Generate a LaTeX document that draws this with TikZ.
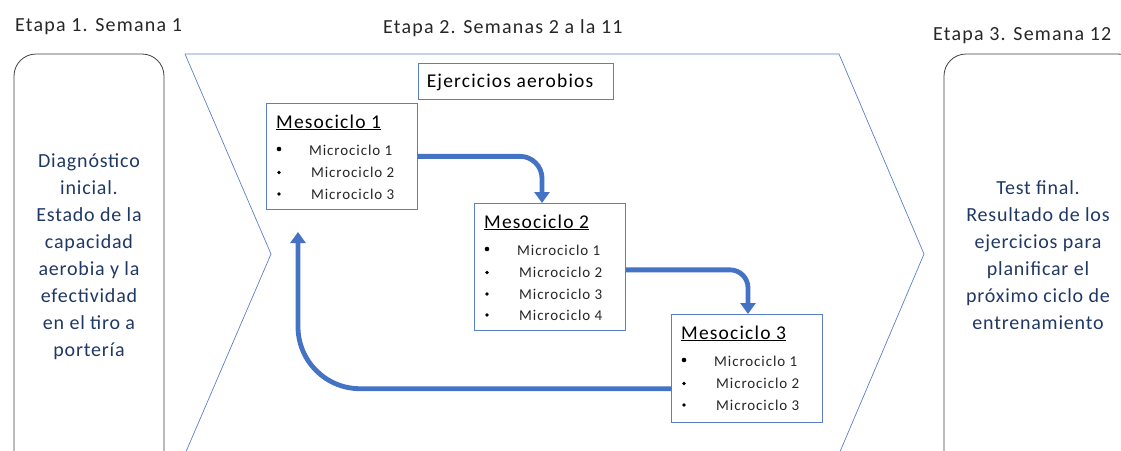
\documentclass[tikz,border=0pt]{standalone}
\usepackage{fontspec}
\setmainfont{Carlito}[LetterSpace=6]
\newfontfamily\sidefont{Carlito}[LetterSpace=4]
\usetikzlibrary{arrows.meta,calc}
\definecolor{flowblue}{HTML}{4472C4}
\definecolor{edgeblue}{HTML}{5B7FC7}
\definecolor{navytext}{HTML}{203864}
\definecolor{titlegray}{HTML}{262626}
\tikzset{
  sidebox/.style={draw=black!75, line width=0.8pt, rounded corners=22pt},
  sidetext/.style={align=center, text=navytext, font=\sidefont\fontsize{20}{27}\selectfont},
  title/.style={anchor=base west, text=titlegray, font=\fontsize{20}{22}\selectfont, inner sep=0},
  mesobox/.style={draw=edgeblue, line width=0.7pt, fill=white, anchor=north west, inner sep=0},
  hdr/.style={anchor=base west, inner sep=0, font=\fontsize{19.5}{22}\selectfont},
  item/.style={anchor=base west, inner sep=0, text=black!85, font=\fontsize{15}{16}\selectfont},
  dot/.style={circle, fill=black, inner sep=0},
  flow/.style={draw=flowblue, line width=4.8pt, -{Triangle[width=15pt,length=11pt]}},
}
\newcommand{\ul}[1]{\underline{#1}}
\begin{document}
\begin{tikzpicture}[x=1pt,y=-1pt]
\useasboundingbox (0,0) rectangle (1121,450);
\clip (0,0) rectangle (1121,450);
% titles
\node[title] (t1) at (15,31) {Etapa 1. Semana 1};
\node[title] (t2) at (383,33) {Etapa 2. Semanas 2 a la 11};
\node[title] (t3) at (933,40) {Etapa 3. Semana 12};
% side boxes
\draw[sidebox] (14,54) rectangle (164,476);
\node[sidetext] (left) at (89,257) {Diagnóstico\\inicial.\\Estado de la\\capacidad\\aerobia y la\\efectividad\\en el tiro a\\portería};
\draw[sidebox] (944,54) rectangle (1140,476);
\node[sidetext] (right) at (1038,255) {Test final.\\Resultado de los\\ejercicios para\\planificar el\\próximo ciclo de\\entrenamiento};
% chevron
\draw[edgeblue, line width=0.7pt] (185,54) -- (839,54) -- (924,254) -- (839,454);
\draw[edgeblue, line width=0.7pt] (185,54) -- (271,254) -- (185,454);
% ejercicios
\node[mesobox, minimum width=195pt, minimum height=36pt] (ej) at (418,63) {};
\node[anchor=base, inner sep=0, font=\fontsize{19.5}{22}\selectfont] (ejt) at (510,87) {Ejercicios aerobios};
% meso boxes
\node[mesobox, minimum width=151pt, minimum height=106pt] (m1) at (266,103) {};
\node[mesobox, minimum width=151pt, minimum height=127pt] (m2) at (474,203) {};
\node[mesobox, minimum width=151pt, minimum height=108pt] (m3) at (671,314) {};
\foreach \m/\n/\k in {m1/1/3, m2/2/4, m3/3/3}{
  \node[hdr] (\m h) at ($(\m.north west)+(10,25)$) {\ul{Mesociclo \n}};
  \foreach \i/\dy in {1/52, 2/74.5, 3/96, 4/117}{
    \ifnum\i>\k\relax\else
      \ifnum\i=1
        \node[item] (\m i\i) at ($(\m.north west)+(43,\dy)$) {Microciclo \i};
        \node[dot, minimum size=4.6pt] (\m b\i) at ($(\m.north west)+(13,\dy-6)$) {};
      \else
        \node[item] (\m i\i) at ($(\m.north west)+(45,\dy)$) {Microciclo \i};
        \node[dot, minimum size=3.6pt] (\m b\i) at ($(\m.north west)+(13,\dy-5)$) {};
      \fi
    \fi
  }
}
% connectors
\coordinate (c1) at (542,0);
\coordinate (c2) at (748,0);
\coordinate (ret) at (298,232);
\coordinate (m3out) at ($(m3.south west)+(0,-34)$);
\draw[flow, rounded corners=22pt] (m1.east) -- (m1.east -| c1) -- (m2.north -| c1);
\draw[flow, rounded corners=18pt] ($(m2.east)+(0,3)$) -- ($(m2.east -| c2)+(0,3)$) -- (m3.north -| c2);
\draw[flow, rounded corners=62pt] (m3out) -- (m3out -| ret) -- (ret);
\end{tikzpicture}
\end{document}
